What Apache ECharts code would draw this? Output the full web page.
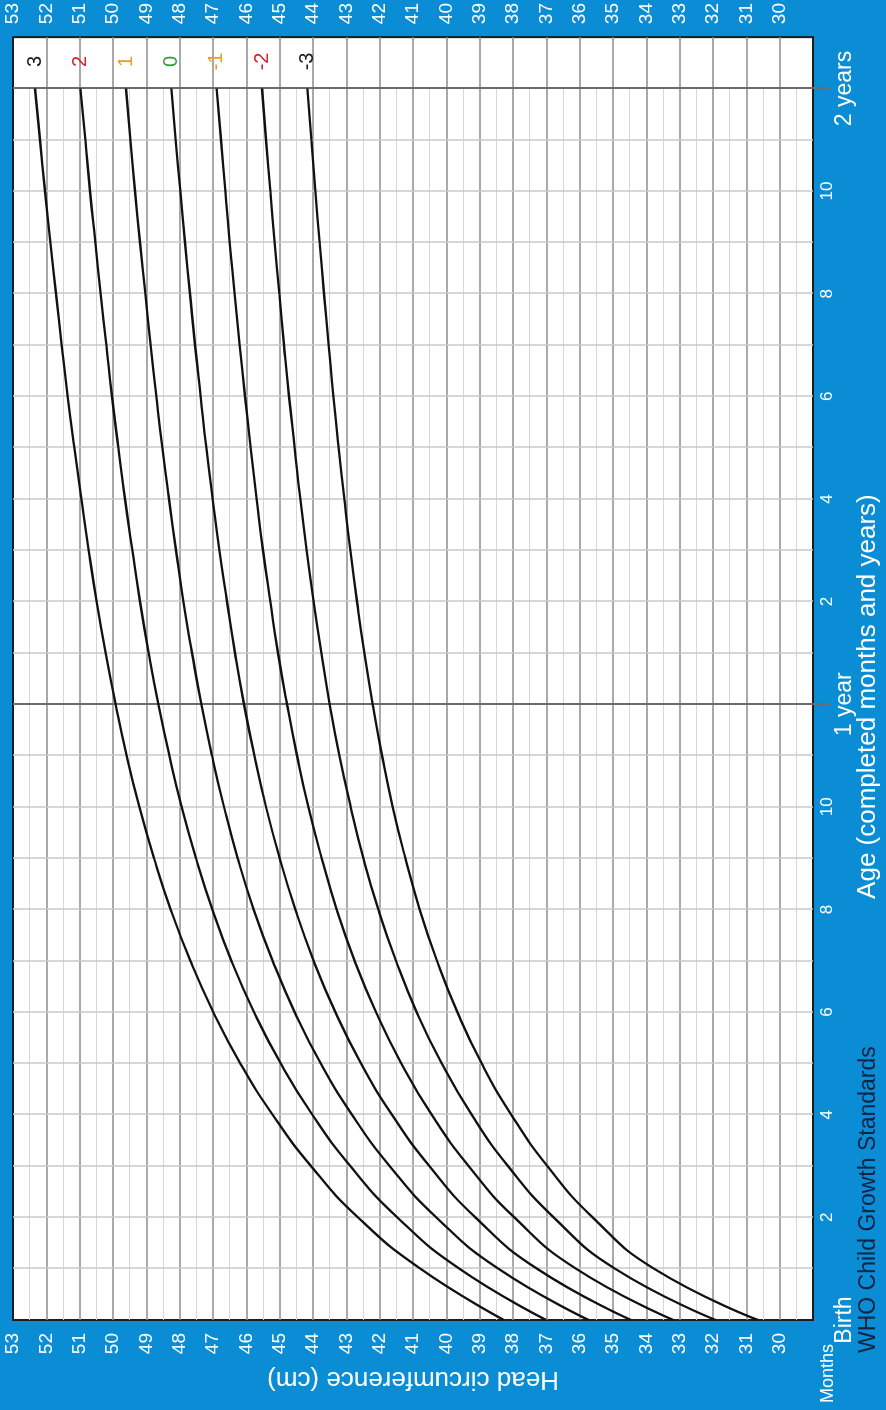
<!DOCTYPE html>
<html>
<head>
<meta charset="utf-8">
<title>Head circumference-for-age</title>
<script src="https://cdn.jsdelivr.net/npm/echarts@6/dist/echarts.min.js"></script>
<style>
  html, body { margin: 0; padding: 0; width: 886px; height: 1410px; overflow: hidden; background: #0b8dd6; }
  /* the chart is laid out in landscape and turned a quarter turn counter-clockwise */
  #chart { position: absolute; left: 0; top: 0; width: 1410px; height: 886px;
           transform-origin: 0 0; transform: translate(0, 1410px) rotate(-90deg); }
</style>
</head>
<body>
<div id="chart"></div>
<script>
// Age in completed months
const months = [0, 1, 2, 3, 4, 5, 6, 7, 8, 9, 10, 11, 12, 13, 14, 15, 16, 17, 18, 19, 20, 21, 22, 23, 24];

// Head circumference (cm) by z-score line
const sdPos3 = [38.27, 40.78, 42.65, 44.06, 45.21, 46.18, 46.99, 47.68, 48.27, 48.77, 49.21, 49.59, 49.92, 50.22, 50.49, 50.73, 50.95, 51.16, 51.36, 51.54, 51.71, 51.88, 52.04, 52.19, 52.34];
const sdPos2 = [37.00, 39.61, 41.47, 42.88, 44.02, 44.97, 45.77, 46.45, 47.02, 47.51, 47.94, 48.31, 48.64, 48.93, 49.19, 49.42, 49.64, 49.84, 50.03, 50.20, 50.37, 50.53, 50.69, 50.83, 50.98];
const sdPos1 = [35.73, 38.44, 40.30, 41.70, 42.83, 43.77, 44.55, 45.21, 45.78, 46.26, 46.67, 47.03, 47.35, 47.63, 47.89, 48.11, 48.32, 48.52, 48.70, 48.87, 49.03, 49.19, 49.34, 49.48, 49.61];
const sdMedian = [34.46, 37.28, 39.13, 40.51, 41.63, 42.56, 43.33, 43.98, 44.53, 45.00, 45.41, 45.76, 46.07, 46.34, 46.58, 46.81, 47.01, 47.20, 47.37, 47.54, 47.69, 47.84, 47.98, 48.12, 48.25];
const sdNeg1 = [33.19, 36.11, 37.96, 39.33, 40.44, 41.35, 42.11, 42.75, 43.29, 43.74, 44.14, 44.48, 44.78, 45.05, 45.28, 45.50, 45.69, 45.87, 46.04, 46.20, 46.35, 46.50, 46.63, 46.76, 46.89];
const sdNeg2 = [31.92, 34.94, 36.78, 38.15, 39.24, 40.14, 40.89, 41.51, 42.04, 42.49, 42.87, 43.21, 43.50, 43.75, 43.98, 44.19, 44.38, 44.55, 44.72, 44.87, 45.01, 45.15, 45.28, 45.41, 45.53];
const sdNeg3 = [30.65, 33.77, 35.61, 36.97, 38.05, 38.94, 39.67, 40.28, 40.80, 41.23, 41.61, 41.93, 42.21, 42.46, 42.68, 42.88, 43.06, 43.23, 43.39, 43.53, 43.67, 43.80, 43.93, 44.05, 44.17];

const zNames = ['3', '2', '1', '0', '-1', '-2', '-3'];
const zColors = ['#1a1a1a', '#d3222a', '#f29a1f', '#2f9a3c', '#f29a1f', '#d3222a', '#1a1a1a'];
const zSeries = [sdPos3, sdPos2, sdPos1, sdMedian, sdNeg1, sdNeg2, sdNeg3];

// Tick labels
const headTicks = [30, 31, 32, 33, 34, 35, 36, 37, 38, 39, 40, 41, 42, 43, 44, 45, 46, 47, 48, 49, 50, 51, 52, 53];
const monthTicks = [2, 4, 6, 8, 10, 14, 16, 18, 20, 22];
const milestoneTicks = [0, 12, 24];
const milestoneNames = ['Birth', '1 year', '2 years'];
const yearLines = [12, 24];

const FONT = '"Liberation Sans", Arial, sans-serif';
const chart = echarts.init(document.getElementById('chart'), null, { renderer: 'canvas' });

const series = zSeries.map((vals, i) => ({
  type: 'line',
  name: zNames[i],
  xAxisIndex: 0,
  yAxisIndex: 0,
  data: months.map((m, j) => [m, vals[j]]),
  smooth: 0.5,
  symbol: 'none',
  showSymbol: false,
  lineStyle: { color: '#111', width: 2.3 },
  endLabel: {
    show: true,
    formatter: '{a}',
    color: zColors[i],
    fontSize: 20,
    fontFamily: FONT,
    align: 'center',
    verticalAlign: 'middle',
    distance: 27
  },
  z: 5
}));

// dark year rules across the plot
series[0].markLine = {
  silent: true,
  symbol: 'none',
  label: { show: false },
  lineStyle: { color: '#6b6b6b', width: 2, type: 'solid' },
  data: yearLines.map(v => ({ xAxis: v }))
};

chart.setOption({
  animation: false,
  backgroundColor: '#0b8dd6',
  textStyle: { fontFamily: FONT },
  grid: [
    { left: 90, right: 37, top: 13, bottom: 73, show: true, backgroundColor: '#ffffff', borderColor: '#1c1c1c', borderWidth: 2 },
    { left: 90, right: 88.32, top: 13, bottom: 73 }
  ],
  xAxis: [
    {
      gridIndex: 0, type: 'value', position: 'bottom', min: 0, max: 25, interval: 1,
      axisLine: { show: false }, axisTick: { show: false },
      splitLine: { show: true, showMinLine: false, showMaxLine: false, lineStyle: { color: '#c9c9c9', width: 1.5 } },
      axisLabel: { customValues: monthTicks, formatter: v => String(v % 12), color: '#ffffff', fontSize: 17, margin: 6 },
      name: 'Age (completed months and years)', nameLocation: 'middle', nameGap: 42,
      nameTextStyle: { color: '#ffffff', fontSize: 26, padding: [0, 36, 0, 0] }
    },
    {
      gridIndex: 0, type: 'value', position: 'bottom', min: 0, max: 25, interval: 12,
      axisLine: { show: false },
      axisTick: { show: true, customValues: yearLines, length: 17, lineStyle: { color: '#6b6b6b', width: 2 } },
      splitLine: { show: false },
      axisLabel: { customValues: milestoneTicks, formatter: v => milestoneNames[milestoneTicks.indexOf(v)], color: '#ffffff', fontSize: 23, margin: 20 }
    },
    { gridIndex: 1, type: 'value', min: 0, max: 24, show: false }
  ],
  yAxis: [
    {
      gridIndex: 0, type: 'value', position: 'left', min: 29, max: 53, interval: 1,
      axisLine: { show: false }, axisTick: { show: false },
      splitLine: { show: true, showMinLine: false, showMaxLine: false, lineStyle: { color: '#8d8d8d', width: 1.6 } },
      axisLabel: { customValues: headTicks, color: '#ffffff', fontSize: 19, margin: 13 },
      name: 'Head circumference (cm)', nameLocation: 'middle', nameGap: 46,
      nameTextStyle: { color: '#ffffff', fontSize: 26 }
    },
    {
      gridIndex: 0, type: 'value', position: 'right', min: 29, max: 53, interval: 1,
      axisLine: { show: false }, axisTick: { show: false }, splitLine: { show: false },
      axisLabel: { customValues: headTicks, color: '#ffffff', fontSize: 19, margin: 13 }
    },
    {
      gridIndex: 1, type: 'value', min: 29, max: 53, interval: 1,
      axisLine: { show: false }, axisTick: { show: false }, axisLabel: { show: false },
      splitLine: { show: false },
      minorTick: { show: false, splitNumber: 2 },
      minorSplitLine: { show: true, lineStyle: { color: '#d6d6d6', width: 1 } }
    }
  ],
  graphic: [
    { type: 'text', x: 57, y: 869, style: { text: 'WHO Child Growth Standards', fill: '#0f2440', fontSize: 23, fontFamily: FONT, align: 'left', verticalAlign: 'middle' } },
    { type: 'text', x: 66, y: 828, style: { text: 'Months', fill: '#ffffff', fontSize: 18, fontFamily: FONT, align: 'right', verticalAlign: 'middle' } }
  ],
  series: series
});
</script>
</body>
</html>
